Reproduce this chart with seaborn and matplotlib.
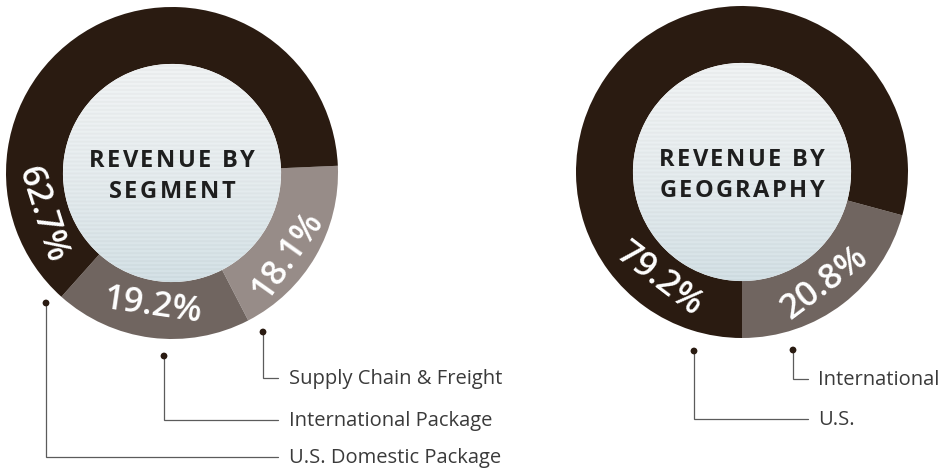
import numpy as np
import pandas as pd
import matplotlib
matplotlib.use("Agg")
import matplotlib.pyplot as plt
import seaborn as sns
from matplotlib.patches import Circle
from matplotlib.colors import to_rgb
from matplotlib.font_manager import FontProperties

# ---- data ---------------------------------------------------------------
segment_names = ["Supply Chain & Freight", "International Package", "U.S. Domestic Package"]
segment_share = [18.1, 19.2, 62.7]
geo_names = ["International", "U.S."]
geo_share = [20.8, 79.2]
segment_title = ["REVENUE BY", "SEGMENT"]
geo_title = ["REVENUE BY", "GEOGRAPHY"]

# ---- styling ------------------------------------------------------------
DARK = "#2a1b11"
MID = "#706560"
LIGHT = "#978c88"
FILL_TOP = "#f0f3f4"
FILL_BOTTOM = "#d4e1e6"
TEXT = "#1e1e1e"
LABEL = "#3a3a3a"
LEADER = "#5b5b5b"

segment_colors = [LIGHT, MID, DARK]
geo_colors = [MID, DARK]

sns.set_theme(style="white")
plt.rcParams["font.family"] = ["Open Sans", "DejaVu Sans"]

W, H = 944, 468
fig = plt.figure(figsize=(W / 100, H / 100), dpi=100)
fig.patch.set_facecolor("white")

R_OUT = 166
RING = 0.343           # ring width as fraction of outer radius
R_IN = 1 - RING


def center_fill(ax):
    """Pale, finely striped disc filling the hole of the donut."""
    rows = 220
    t = np.linspace(0, 1, rows)[:, None]
    top, bot = np.array(to_rgb(FILL_TOP)), np.array(to_rgb(FILL_BOTTOM))
    img = top * (1 - t ** 1.6) + bot * t ** 1.6
    stripe = np.where((np.arange(rows) // 2) % 2 == 0, 0.0, -0.025)[:, None]
    img = np.clip(img + stripe, 0, 1)[:, None, :]
    disc = Circle((0, 0), R_IN, transform=ax.transData, facecolor="none", edgecolor="none")
    ax.add_patch(disc)
    im = ax.imshow(img, extent=[-R_IN, R_IN, -R_IN, R_IN], origin="upper",
                   aspect="auto", interpolation="bilinear", zorder=3)
    im.set_clip_path(disc)


def donut(cx, cy, values, colors, startangle, counterclock):
    ax = fig.add_axes([(cx - R_OUT) / W, (H - cy - R_OUT) / H,
                       2 * R_OUT / W, 2 * R_OUT / H])
    ax.pie(values, colors=colors, startangle=startangle, counterclock=counterclock,
           radius=1, wedgeprops=dict(width=RING, linewidth=0, antialiased=True))
    center_fill(ax)
    ax.set_xlim(-1, 1)
    ax.set_ylim(-1, 1)
    ax.axis("off")
    return ax


def pct_label(ax, value, angle_deg, r):
    t = np.deg2rad(angle_deg)
    ax.text(r * np.cos(t), r * np.sin(t), f"{value}%", color="white",
            fontsize=25, fontweight="semibold", ha="center", va="center_baseline",
            rotation=angle_deg + 90, rotation_mode="anchor", zorder=5)


# ---- left donut: revenue by segment --------------------------------------
axL = donut(172, 173, segment_share, segment_colors, startangle=2.5, counterclock=False)
pct_label(axL, segment_share[0], -35.3, 0.83)
pct_label(axL, segment_share[1], -98.3, 0.79)
pct_label(axL, segment_share[2], 197.5, 0.80)

# ---- right donut: revenue by geography -----------------------------------
axR = donut(742, 172, geo_share, geo_colors, startangle=-90, counterclock=True)
pct_label(axR, geo_share[0], -53.1, 0.81)
pct_label(axR, geo_share[1], -127.3, 0.795)

# pixel-space overlay (on top) for titles, leader lines and labels
overlay = fig.add_axes([0, 0, 1, 1])
overlay.set_zorder(10)
overlay.set_xlim(0, W)
overlay.set_ylim(H, 0)
overlay.axis("off")

renderer = fig.canvas.get_renderer()
title_prop = FontProperties(family=["Open Sans"], weight="bold", size=17)


def advance(ch, prop):
    w1 = renderer.get_text_width_height_descent("I" + ch + "I", prop, ismath=False)[0]
    w0 = renderer.get_text_width_height_descent("II", prop, ismath=False)[0]
    return w1 - w0


def tracked_text(cx, y_base, s, prop, tracking):
    widths = [advance(c, prop) for c in s]
    total = sum(widths) + tracking * (len(s) - 1)
    x = cx - total / 2
    for c, w in zip(s, widths):
        overlay.text(x, y_base, c, fontproperties=prop, color=TEXT,
                     ha="left", va="baseline", zorder=10)
        x += w + tracking


def leader(dot, line_y, line_end_x, text_x, text):
    dx, dy = dot
    overlay.plot([dx, dx, line_end_x], [dy, line_y, line_y], color=LEADER, lw=0.9,
                 solid_joinstyle="miter", zorder=2)
    sns.scatterplot(x=[dx], y=[dy], ax=overlay, color=DARK, s=24,
                    edgecolor="none", zorder=3, legend=False)
    overlay.text(text_x, line_y + 6, text, color=LABEL, fontsize=14.5,
                 ha="left", va="baseline")


# centre titles
for (cx, cy), lines in [((172, 173), segment_title), ((742, 172), geo_title)]:
    tracked_text(cx, cy - 6, lines[0], title_prop, 2.4)
    tracked_text(cx, cy + 25, lines[1], title_prop, 2.4)

# leader lines and category names
leader((263, 332), 378, 278, 289, segment_names[0])
leader((164, 356), 420, 278, 289, segment_names[1])
leader((46, 303), 457, 278, 289, segment_names[2])
leader((793, 350), 379, 808, 818, geo_names[0])
leader((694, 351), 419, 808, 818, geo_names[1])

overlay.set_xlim(0, W)
overlay.set_ylim(H, 0)
overlay.axis("off")

fig.savefig("out.png", dpi=100, facecolor="white")
